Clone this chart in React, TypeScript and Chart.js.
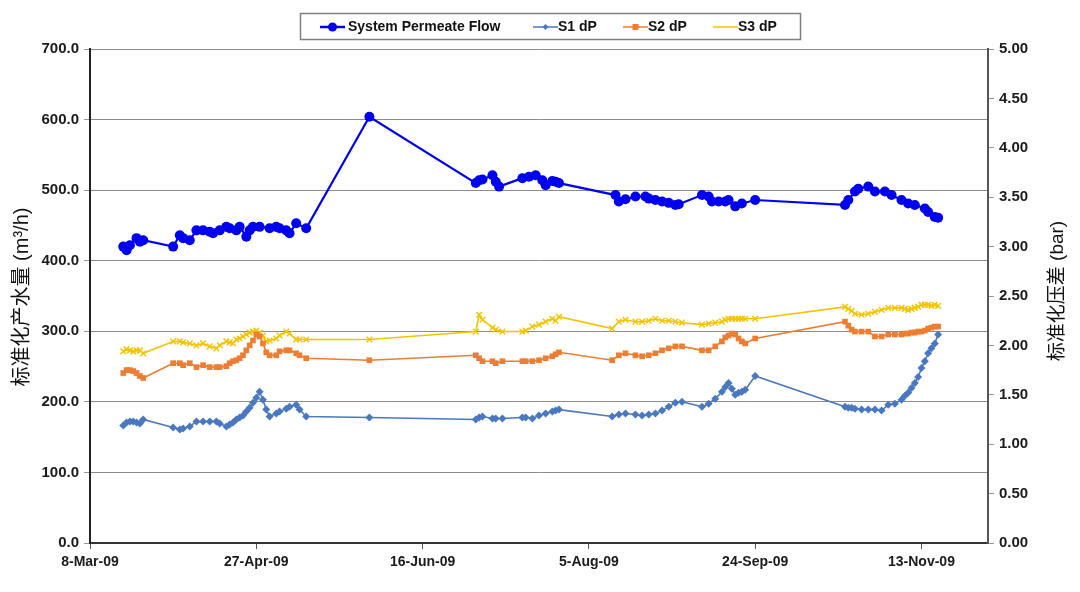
import React, { useEffect, useRef } from "react";
import { Chart, registerables } from "chart.js";

Chart.register(...registerables);

// ---------- DATA ----------
const START = Date.UTC(2009, 2, 8); // 8-Mar-09
const X_MAX_DAY = 270;
const xTickDays = [0, 50, 100, 150, 200, 250];

const flowDates = [
  "3/18", "3/19", "3/20", "3/22", "3/23", "3/24",
  "4/2", "4/4", "4/5", "4/7", "4/9", "4/11", "4/13", "4/14", "4/16", "4/18", "4/19", "4/21", "4/22", "4/24", "4/25", "4/26", "4/28",
  "5/1", "5/3", "5/4", "5/6", "5/7", "5/9", "5/12", "5/31",
  "7/2", "7/3", "7/4", "7/7", "7/8", "7/9", "7/16", "7/18", "7/20", "7/22", "7/23", "7/25", "7/26", "7/27",
  "8/13", "8/14", "8/16", "8/19", "8/22", "8/23", "8/25", "8/27", "8/29", "8/31",
  "9/1", "9/8", "9/10", "9/11", "9/13", "9/15", "9/16", "9/18", "9/20", "9/24",
  "10/21", "10/22", "10/24", "10/25", "10/28", "10/30",
  "11/2", "11/4", "11/7", "11/9", "11/11", "11/14", "11/15", "11/17", "11/18",
];
const flowValues = [
  420, 415, 422, 432, 427, 429,
  420, 436, 432, 429, 443, 443, 441, 439, 443, 448, 446, 443, 448, 434, 443, 448, 448,
  446, 448, 446, 443, 439, 453, 446, 604,
  510, 514, 515, 521, 512, 505, 517, 519, 521, 514, 507, 513, 512, 510,
  493, 484, 487, 491, 491, 488, 486, 484, 482, 479,
  480, 493, 491, 484, 484, 484, 486, 477, 481, 486,
  479, 486, 498, 502, 505, 498,
  498, 493, 486, 481, 479, 474, 469, 462, 461,
];

const dpDates = [
  "3/18", "3/19", "3/20", "3/21", "3/22", "3/23", "3/24",
  "4/2", "4/4", "4/5", "4/7", "4/9", "4/11", "4/13", "4/15", "4/16", "4/18", "4/19", "4/20", "4/21", "4/22", "4/23", "4/24", "4/25", "4/26", "4/27", "4/28", "4/29", "4/30",
  "5/1", "5/3", "5/4", "5/6", "5/7", "5/9", "5/10", "5/12", "5/31",
  "7/2", "7/3", "7/4", "7/7", "7/8", "7/10", "7/16", "7/17", "7/19", "7/21", "7/23", "7/25", "7/26", "7/27",
  "8/12", "8/14", "8/16", "8/19", "8/21", "8/23", "8/25", "8/27", "8/29", "8/31",
  "9/2", "9/8", "9/10", "9/12", "9/14", "9/15", "9/16", "9/17", "9/18", "9/19", "9/20", "9/21", "9/24",
  "10/21", "10/22", "10/23", "10/24", "10/26", "10/28", "10/30",
  "11/1", "11/3", "11/5", "11/7", "11/8", "11/9", "11/10", "11/11", "11/12", "11/13", "11/14", "11/15", "11/16", "11/17", "11/18",
];
const s1Values = [
  1.19, 1.22, 1.23, 1.23, 1.22, 1.21, 1.25,
  1.17, 1.15, 1.16, 1.18, 1.23, 1.23, 1.23, 1.23, 1.21, 1.18, 1.2, 1.22, 1.25, 1.27, 1.29, 1.33, 1.37, 1.42, 1.47, 1.53, 1.45, 1.35,
  1.28, 1.31, 1.33, 1.36, 1.38, 1.4, 1.35, 1.28, 1.27,
  1.25, 1.27, 1.28, 1.26, 1.26, 1.26, 1.27, 1.27, 1.26, 1.29, 1.31, 1.33, 1.34, 1.35,
  1.28, 1.3, 1.31, 1.3, 1.29, 1.3, 1.31, 1.34, 1.38, 1.42,
  1.43, 1.38, 1.41, 1.46, 1.53, 1.58, 1.62, 1.56, 1.5, 1.52, 1.53, 1.55, 1.69,
  1.38, 1.37, 1.37, 1.36, 1.35, 1.35, 1.35,
  1.34, 1.4, 1.41, 1.45, 1.49, 1.52, 1.57, 1.62, 1.68, 1.77, 1.84, 1.92, 1.97, 2.02, 2.11,
];
const s2Values = [
  1.72, 1.75, 1.75, 1.74, 1.72, 1.69, 1.67,
  1.82, 1.82, 1.8, 1.82, 1.78, 1.8, 1.78, 1.78, 1.78, 1.79, 1.82, 1.84, 1.85, 1.87, 1.9, 1.95, 2.0, 2.05, 2.11, 2.09, 2.02, 1.93,
  1.9, 1.9, 1.94, 1.95, 1.95, 1.92, 1.9, 1.87, 1.85,
  1.9, 1.87, 1.84, 1.84, 1.82, 1.84, 1.84, 1.84, 1.84, 1.85, 1.87, 1.89, 1.91, 1.93,
  1.85, 1.9, 1.92, 1.9, 1.89, 1.9, 1.92, 1.95, 1.97, 1.99,
  1.99, 1.95, 1.95, 1.99, 2.04, 2.08, 2.1, 2.12, 2.11, 2.07, 2.04, 2.02, 2.07,
  2.24, 2.2, 2.16, 2.14, 2.14, 2.14, 2.09,
  2.09, 2.11, 2.11, 2.11, 2.12, 2.12, 2.13, 2.13, 2.14, 2.14, 2.15, 2.17, 2.18, 2.19, 2.19,
];
const s3Values = [
  1.94, 1.96, 1.95, 1.94, 1.95, 1.95, 1.92,
  2.04, 2.04, 2.03, 2.02, 2.0, 2.02, 1.99, 1.97, 2.0, 2.04, 2.03, 2.02, 2.06, 2.07, 2.09, 2.11, 2.13, 2.14, 2.15, 2.13, 2.1, 2.04,
  2.05, 2.07, 2.1, 2.14, 2.12, 2.06, 2.06, 2.06, 2.06,
  2.14, 2.31, 2.26, 2.18, 2.16, 2.14, 2.14, 2.15, 2.19, 2.21, 2.24, 2.27, 2.25, 2.29,
  2.17, 2.24, 2.26, 2.24, 2.24, 2.25, 2.27, 2.25, 2.25, 2.24,
  2.23, 2.21, 2.22, 2.23, 2.24, 2.26, 2.27, 2.27, 2.27, 2.27, 2.27, 2.27, 2.27,
  2.39, 2.37, 2.35, 2.32, 2.31, 2.32, 2.34,
  2.36, 2.38, 2.38, 2.38, 2.37, 2.36, 2.37, 2.38, 2.39, 2.41, 2.41, 2.41, 2.4, 2.41, 2.4,
];

const seriesNames = ["System Permeate Flow", "S1 dP", "S2 dP", "S3 dP"];
const leftTitle = "标准化产水量 (m³/h)";
const rightTitle = "标准化压差 (bar)";
const MONTHS = ["Jan", "Feb", "Mar", "Apr", "May", "Jun", "Jul", "Aug", "Sep", "Oct", "Nov", "Dec"];

// ---------- HELPERS ----------
const toDay = (md: string) => {
  const [m, d] = md.split("/").map(Number);
  return Math.round((Date.UTC(2009, m - 1, d) - START) / 86400000);
};
const fmtDay = (v: number) => {
  const dt = new Date(START + v * 86400000);
  return `${dt.getUTCDate()}-${MONTHS[dt.getUTCMonth()]}-09`;
};
const pts = (dates: string[], vals: number[]) => dates.map((d, i) => ({ x: toDay(d), y: vals[i] }));

const COLORS = {
  flow: "#0000f0",
  s1: "#4a78c0",
  s2: "#ed7d31",
  s3: "#f5c400",
};
const FONT = "'Liberation Sans', Arial, 'Noto Sans CJK SC', sans-serif";

const decorPlugin = {
  id: "decor",
  afterDraw(chart: any) {
    const ctx = chart.ctx as CanvasRenderingContext2D;
    ctx.save();
    // axis titles (both read bottom-to-top)
    ctx.fillStyle = "#111";
    ctx.textAlign = "center";
    ctx.textBaseline = "middle";
    ctx.font = `20px ${FONT}`;
    ctx.save();
    ctx.translate(22, 297);
    ctx.rotate(-Math.PI / 2);
    ctx.fillText(leftTitle, 0, 0);
    ctx.restore();
    ctx.font = `19px ${FONT}`;
    ctx.save();
    ctx.translate(1058, 291);
    ctx.rotate(-Math.PI / 2);
    ctx.fillText(rightTitle, 0, 0);
    ctx.restore();

    // legend box
    ctx.fillStyle = "#fff";
    ctx.fillRect(300, 13, 501, 27);
    ctx.strokeStyle = "#808080";
    ctx.lineWidth = 1.5;
    ctx.strokeRect(300.5, 13.5, 500, 26);
    const items = [
      { x: 320, tx: 348, color: COLORS.flow, lw: 2.5, kind: "circle" },
      { x: 533, tx: 558, color: COLORS.s1, lw: 1.5, kind: "diamond" },
      { x: 623, tx: 648, color: COLORS.s2, lw: 1.5, kind: "square" },
      { x: 713, tx: 738, color: COLORS.s3, lw: 1.5, kind: "none" },
    ];
    const ly = 27;
    items.forEach((it, i) => {
      ctx.strokeStyle = it.color;
      ctx.lineWidth = it.lw;
      ctx.beginPath();
      ctx.moveTo(it.x, ly);
      ctx.lineTo(it.x + 25, ly);
      ctx.stroke();
      ctx.fillStyle = it.color;
      const cx = it.x + 12.5;
      if (it.kind === "circle") {
        ctx.beginPath();
        ctx.arc(cx, ly, 4.5, 0, Math.PI * 2);
        ctx.fill();
      } else if (it.kind === "diamond") {
        ctx.beginPath();
        ctx.moveTo(cx, ly - 3);
        ctx.lineTo(cx + 3, ly);
        ctx.lineTo(cx, ly + 3);
        ctx.lineTo(cx - 3, ly);
        ctx.closePath();
        ctx.fill();
      } else if (it.kind === "square") {
        ctx.fillRect(cx - 3, ly - 3, 6, 6);
      }
      ctx.fillStyle = "#111";
      ctx.font = `bold 14px ${FONT}`;
      ctx.textAlign = "left";
      ctx.textBaseline = "middle";
      ctx.fillText(seriesNames[i], it.tx, ly);
    });
    ctx.restore();
  },
};

export default function App() {
  const ref = useRef<HTMLCanvasElement>(null);
  useEffect(() => {
    if (!ref.current) return;
    const yTickFont = { family: FONT, size: 15, weight: "bold" as const };
    const xTickFont = { family: FONT, size: 14, weight: "bold" as const };
    const chart = new Chart(ref.current, {
      type: "line",
      data: {
        datasets: [
          {
            label: seriesNames[0],
            data: pts(flowDates, flowValues),
            yAxisID: "y",
            borderColor: COLORS.flow,
            backgroundColor: COLORS.flow,
            borderWidth: 2.2,
            pointStyle: "circle",
            pointRadius: 5,
            pointBorderWidth: 0,
          },
          {
            label: seriesNames[1],
            data: pts(dpDates, s1Values),
            yAxisID: "y2",
            borderColor: COLORS.s1,
            backgroundColor: COLORS.s1,
            borderWidth: 1.6,
            pointStyle: "rectRot",
            pointRadius: 4,
            pointBorderWidth: 0,
          },
          {
            label: seriesNames[2],
            data: pts(dpDates, s2Values),
            yAxisID: "y2",
            borderColor: COLORS.s2,
            backgroundColor: COLORS.s2,
            borderWidth: 1.6,
            pointStyle: "rect",
            pointRadius: 4,
            pointBorderWidth: 0,
          },
          {
            label: seriesNames[3],
            data: pts(dpDates, s3Values),
            yAxisID: "y2",
            borderColor: COLORS.s3,
            backgroundColor: COLORS.s3,
            borderWidth: 1.6,
            pointStyle: "crossRot",
            pointRadius: 4,
            pointBorderWidth: 1.4,
            pointBorderColor: COLORS.s3,
          },
        ],
      },
      options: {
        animation: false,
        responsive: false,
        maintainAspectRatio: false,
        layout: { padding: { top: 49, left: 0, right: 0, bottom: 0 } },
        plugins: { legend: { display: false }, tooltip: { enabled: false } },
        elements: { line: { tension: 0 } },
        scales: {
          x: {
            type: "linear",
            min: 0,
            max: X_MAX_DAY,
            afterBuildTicks: (s: any) => {
              s.ticks = xTickDays.map((v) => ({ value: v }));
            },
            afterFit: (s: any) => {
              s.height = 49;
            },
            ticks: {
              autoSkip: false,
              maxRotation: 0,
              padding: 5,
              color: "#1a1a1a",
              font: xTickFont,
              callback: (v: any) => fmtDay(Number(v)),
            },
            grid: { display: true, drawOnChartArea: false, drawTicks: true, tickLength: 6, color: "#555", lineWidth: 1 },
            border: { color: "#333", width: 2 },
          },
          y: {
            position: "left",
            min: 0,
            max: 700,
            afterFit: (s: any) => {
              s.width = 90;
            },
            ticks: {
              stepSize: 100,
              padding: 5,
              color: "#1a1a1a",
              font: yTickFont,
              callback: (v: any) => Number(v).toFixed(1),
            },
            grid: { color: "#8c8c8c", lineWidth: 1, tickLength: 6, tickColor: "#999" },
            border: { color: "#222", width: 2 },
          },
          y2: {
            position: "right",
            min: 0,
            max: 5,
            afterFit: (s: any) => {
              s.width = 92;
            },
            ticks: {
              stepSize: 0.5,
              padding: 5,
              color: "#1a1a1a",
              font: yTickFont,
              callback: (v: any) => Number(v).toFixed(2),
            },
            grid: { drawOnChartArea: false, tickLength: 6, color: "#999" },
            border: { color: "#555", width: 2 },
          },
        },
      },
      plugins: [decorPlugin],
    });
    return () => chart.destroy();
  }, []);

  return (
    <div style={{ position: "absolute", left: 0, top: 0, width: 1080, height: 592, background: "#fff" }}>
      <canvas ref={ref} width={1080} height={592} style={{ display: "block" }} />
    </div>
  );
}
